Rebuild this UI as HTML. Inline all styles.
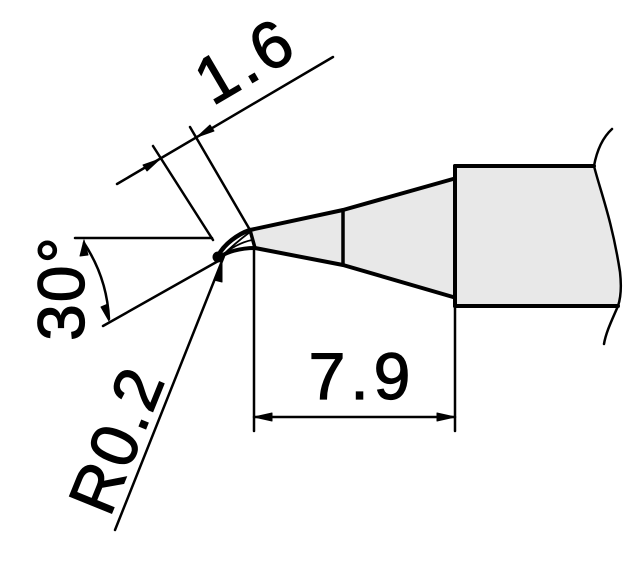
<!DOCTYPE html>
<html><head><style>html,body{margin:0;padding:0;background:#fff}svg{display:block}</style></head>
<body>
<svg width="640" height="561" viewBox="0 0 640 561" xmlns="http://www.w3.org/2000/svg">
<g stroke="#000" fill="none" stroke-linecap="round" stroke-linejoin="round">
<path d="M455,166 L594,166 C600,190 612,220 620,272 L618,306 L455,306 Z" fill="#e8e8e8" stroke="none"/>
<path d="M612,129 C600,140 596,155 594,166 C600,190 612,220 620,272 C622,290 620,300 618,306 C612,320 606,332 604,344" stroke-width="2.5"/>
<line x1="455" y1="166" x2="594" y2="166" stroke-width="4"/>
<line x1="455" y1="306" x2="618" y2="306" stroke-width="4"/>
<line x1="455" y1="166" x2="455" y2="306" stroke-width="4"/>
<path d="M250,230 L343,210 L453,179 L453,297 L343,265 L255,248 Z" fill="#e8e8e8" stroke="none"/>
<path d="M250,230 L343,210 L453,179" stroke-width="4"/>
<path d="M255,248 L343,265 L453,297" stroke-width="4"/>
<line x1="343" y1="210" x2="343" y2="265" stroke-width="3.5"/>
<path d="M250,230 C238,234 224,244 218,256" stroke-width="4.5"/>
<path d="M255,248 C240,248 226,252 218,258" stroke-width="4"/>
<path d="M250,232 C242,238 232,246 222,256" stroke-width="1.8"/>
<path d="M252,240 C242,242 230,248 222,256" stroke-width="1.8"/>
<line x1="250" y1="230" x2="255" y2="248" stroke-width="3.5"/>
<circle cx="218" cy="257" r="5" fill="#000"/>
<line x1="254" y1="247" x2="254" y2="431" stroke-width="2.5"/>
<line x1="455" y1="306" x2="455" y2="431" stroke-width="2.5"/>
<line x1="254" y1="417" x2="455" y2="417" stroke-width="2.5"/>
<path d="M254,417 L272,413 L272,421 Z M455,417 L437,413 L437,421 Z" fill="#000" stroke-width="1"/>
<line x1="75" y1="238" x2="212" y2="238" stroke-width="2.5"/>
<line x1="103" y1="326" x2="220" y2="260" stroke-width="2.5"/>
<path d="M84,243 A150,150 0 0 1 109,319" stroke-width="2.5"/>
<path d="M84,240 L80,256 L88,255 Z M109,321 L101,307 L108,304 Z" fill="#000" stroke-width="1"/>
<line x1="224" y1="256" x2="115" y2="530" stroke-width="2.5"/>
<path d="M222,262 L214,280 L222,282 Z" fill="#000" stroke-width="1"/>
<line x1="153" y1="146" x2="213" y2="240" stroke-width="2.5"/>
<line x1="190" y1="127" x2="250" y2="230" stroke-width="2.5"/>
<line x1="117" y1="184" x2="333" y2="57" stroke-width="2.5"/>
<path d="M160,159 L143,165 L147,171 Z M197,137 L214,131 L210,125 Z" fill="#000" stroke-width="1"/>
</g>
<g font-family="Liberation Sans, sans-serif" font-size="66" fill="#000" stroke="#000" stroke-width="1.2">
<text x="362" y="399" text-anchor="middle" letter-spacing="5">7.9</text>
<text transform="translate(257,80) rotate(-30.5)" text-anchor="middle" letter-spacing="4">1.6</text>
<text transform="translate(84,288) rotate(-90)" text-anchor="middle" letter-spacing="2">30°</text>
<text transform="translate(138,448) rotate(-68)" text-anchor="middle" letter-spacing="3">R0.2</text>
</g>
</svg>
</body></html>
